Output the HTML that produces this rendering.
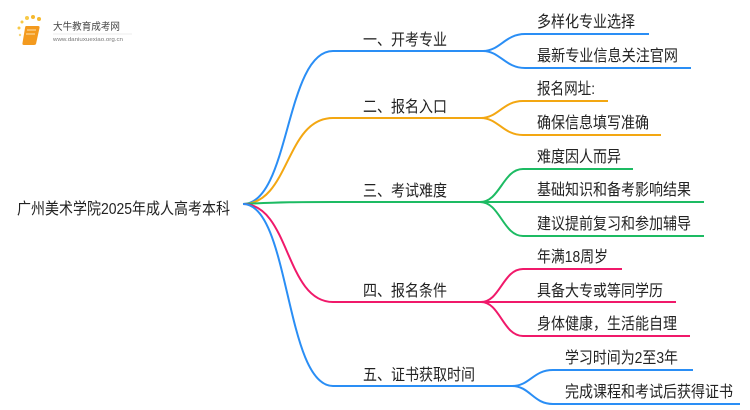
<!DOCTYPE html>
<html><head><meta charset="utf-8"><style>
html,body{margin:0;padding:0;background:#fff;}
svg{display:block;}
text{font-family:"Liberation Sans","Noto Sans CJK SC",sans-serif;fill:#222;}
</style></head><body>
<svg width="750" height="410" viewBox="0 0 750 410" xmlns="http://www.w3.org/2000/svg">
<g>
<circle cx="22" cy="22" r="1.5" fill="#f7c948"/><circle cx="27" cy="18" r="2" fill="#f7c948"/><circle cx="33" cy="17" r="2" fill="#f5b82e"/><circle cx="39" cy="19" r="2" fill="#f5b82e"/><circle cx="19" cy="28" r="1.5" fill="#f7c948"/><circle cx="20" cy="35" r="1.2" fill="#f7d57a"/>
<path d="M26 26 L38 26 Q40 26 39.5 28 L36 44 Q35.5 45 34 45 L24 45 Q22 45 22.5 43 L25 28 Q25.3 26 26 26Z" fill="#f39a1e"/>
<path d="M27 30 L36 30 M26 34 L35 34" stroke="#fde2b0" stroke-width="1"/>
<text x="53" y="30" font-size="10" textLength="67" lengthAdjust="spacingAndGlyphs" style="fill:#444">大牛教育成考网</text>
<line x1="53" y1="34" x2="132" y2="34" stroke="#ddd" stroke-width="0.6"/>
<text x="53" y="41" font-size="5.5" textLength="70" lengthAdjust="spacingAndGlyphs" style="fill:#777">www.daniuxuexiao.org.cn</text>
</g>
<text x="17" y="214" font-size="16" textLength="213" lengthAdjust="spacingAndGlyphs">广州美术学院2025年成人高考本科</text>
<g fill="none" stroke-width="2">
<path d="M243 204 C290 204 285 51 333 51 L483 51" stroke="#2a8ef5"/>
<path d="M483 51 C500 51 505 34 525 34 L649 34" stroke="#2a8ef5"/>
<path d="M483 51 C500 51 505 68 525 68 L691 68" stroke="#2a8ef5"/>
<path d="M243 204 C290 204 285 118 333 118 L481 118" stroke="#f3a712"/>
<path d="M481 118 C498 118 503 101 523 101 L608 101" stroke="#f3a712"/>
<path d="M481 118 C498 118 503 135 523 135 L661 135" stroke="#f3a712"/>
<path d="M243 204 C280 202 300 202 333 202 L480 202" stroke="#1dbb63"/>
<path d="M480 202 C500 202 503 169 523 169 L633 169" stroke="#1dbb63"/>
<path d="M480 202 L704 202" stroke="#1dbb63"/>
<path d="M480 202 C500 202 503 236 523 236 L704 236" stroke="#1dbb63"/>
<path d="M243 204 C290 204 285 302 333 302 L481 302" stroke="#f0196a"/>
<path d="M481 302 C500 302 503 269 523 269 L622 269" stroke="#f0196a"/>
<path d="M481 302 L676 302" stroke="#f0196a"/>
<path d="M481 302 C500 302 503 336 523 336 L690 336" stroke="#f0196a"/>
<path d="M243 204 C290 204 285 386 333 386 L512 386" stroke="#2a8ef5"/>
<path d="M512 386 C530 386 533 370 553 370 L693 370" stroke="#2a8ef5"/>
<path d="M512 386 C530 386 533 404 553 404 L740 404" stroke="#2a8ef5"/>
</g>
<g font-size="16" lengthAdjust="spacingAndGlyphs">
<text x="363" y="45" textLength="84" lengthAdjust="spacingAndGlyphs">一、开考专业</text>
<text x="363" y="112" textLength="84" lengthAdjust="spacingAndGlyphs">二、报名入口</text>
<text x="363" y="196" textLength="84" lengthAdjust="spacingAndGlyphs">三、考试难度</text>
<text x="363" y="296" textLength="84" lengthAdjust="spacingAndGlyphs">四、报名条件</text>
<text x="363" y="380" textLength="112" lengthAdjust="spacingAndGlyphs">五、证书获取时间</text>
</g>
<g font-size="16">
<text x="537" y="27" textLength="98" lengthAdjust="spacingAndGlyphs">多样化专业选择</text>
<text x="537" y="61" textLength="141" lengthAdjust="spacingAndGlyphs">最新专业信息关注官网</text>
<text x="537" y="94" textLength="58" lengthAdjust="spacingAndGlyphs">报名网址:</text>
<text x="537" y="128" textLength="112" lengthAdjust="spacingAndGlyphs">确保信息填写准确</text>
<text x="537" y="162" textLength="84" lengthAdjust="spacingAndGlyphs">难度因人而异</text>
<text x="537" y="195" textLength="154" lengthAdjust="spacingAndGlyphs">基础知识和备考影响结果</text>
<text x="537" y="229" textLength="154" lengthAdjust="spacingAndGlyphs">建议提前复习和参加辅导</text>
<text x="537" y="262" textLength="71" lengthAdjust="spacingAndGlyphs">年满18周岁</text>
<text x="537" y="296" textLength="126" lengthAdjust="spacingAndGlyphs">具备大专或等同学历</text>
<text x="537" y="329" textLength="140" lengthAdjust="spacingAndGlyphs">身体健康，生活能自理</text>
<text x="565" y="363" textLength="113" lengthAdjust="spacingAndGlyphs">学习时间为2至3年</text>
<text x="565" y="397" textLength="168" lengthAdjust="spacingAndGlyphs">完成课程和考试后获得证书</text>
</g>
</svg>
</body></html>
